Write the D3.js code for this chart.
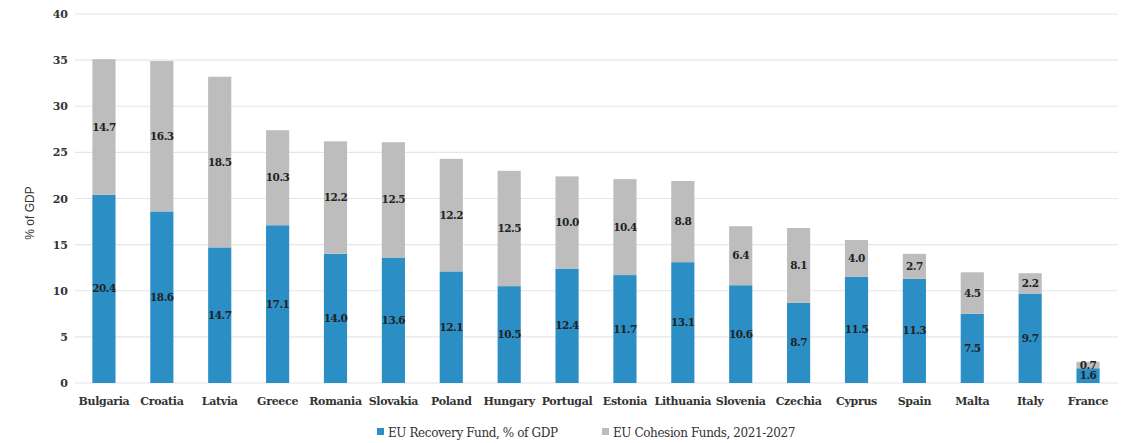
<!DOCTYPE html>
<html><head><meta charset="utf-8">
<script src="https://cdn.jsdelivr.net/npm/d3@7/dist/d3.min.js"></script>
<style>
body{margin:0;background:#fff;}
</style></head>
<body><svg id="c" width="1135" height="443"></svg>
<script>
const countries = ["Bulgaria","Croatia","Latvia","Greece","Romania","Slovakia","Poland","Hungary","Portugal","Estonia","Lithuania","Slovenia","Czechia","Cyprus","Spain","Malta","Italy","France"];
const recovery = [20.4,18.6,14.7,17.1,14.0,13.6,12.1,10.5,12.4,11.7,13.1,10.6,8.7,11.5,11.3,7.5,9.7,1.6];
const cohesion = [14.7,16.3,18.5,10.3,12.2,12.5,12.2,12.5,10.0,10.4,8.8,6.4,8.1,4.0,2.7,4.5,2.2,0.7];
const yTicks = [0,5,10,15,20,25,30,35,40];
const seriesNames = ["EU Recovery Fund, % of GDP","EU Cohesion Funds, 2021-2027"];
const colors = ["#2b8fc6","#bdbdbd"];
const serif = "'DejaVu Serif',serif";

const svg = d3.select("#c");
const x = d3.scaleBand().domain(countries).range([75,1117]).paddingInner(0.6).paddingOuter(0.3);
const y = d3.scaleLinear().domain([0,40]).range([383,14]);

svg.append("g").selectAll("line").data(yTicks).join("line")
  .attr("x1",75).attr("x2",1118).attr("y1",d=>y(d)).attr("y2",d=>y(d))
  .attr("stroke","#e6e6e6").attr("stroke-width",1.2);

const ya = svg.append("g").attr("transform","translate(70,0)")
  .call(d3.axisLeft(y).tickValues(yTicks).tickSize(0).tickPadding(2));
ya.select(".domain").remove();
ya.selectAll("text").attr("font-family",serif).attr("font-size",11).attr("font-weight","bold").attr("fill","#333");

svg.append("text").attr("transform","translate(34,213) rotate(-90)")
  .attr("text-anchor","middle").attr("font-size",12).attr("fill","#333")
  .attr("font-family","'Liberation Sans',Arial,sans-serif").text("% of GDP");

const data = countries.map((c,i)=>({country:c, rec:recovery[i], coh:cohesion[i]}));
const stack = d3.stack().keys(["rec","coh"])(data);

const g = svg.append("g");
stack.forEach((s,si)=>{
  g.append("g").attr("fill",colors[si]).selectAll("rect").data(s).join("rect")
    .attr("x",d=>x(d.data.country)).attr("width",x.bandwidth())
    .attr("y",d=>y(d[1])).attr("height",d=>y(d[0])-y(d[1]));
  g.append("g").selectAll("text").data(s).join("text")
    .attr("x",d=>x(d.data.country)+x.bandwidth()/2)
    .attr("y",d=>y((d[0]+d[1])/2)+3.5)
    .attr("text-anchor","middle").attr("font-family",serif).attr("font-size",10.5).attr("font-weight","bold")
    .attr("fill","#222").attr("letter-spacing","-0.5")
    .text(d=>(d[1]-d[0]).toFixed(1));
});

const xa = svg.append("g").attr("transform","translate(0,383)")
  .call(d3.axisBottom(x).tickSize(0).tickPadding(14));
xa.select(".domain").remove();
xa.selectAll("text").attr("font-family",serif).attr("font-size",11).attr("font-weight","bold").attr("fill","#333").attr("letter-spacing","-0.3");

const leg = svg.append("g");
const lx = [377, 602];
seriesNames.forEach((n,i)=>{
  leg.append("rect").attr("x",lx[i]).attr("y",428).attr("width",7).attr("height",7).attr("fill",colors[i]);
  leg.append("text").attr("x",lx[i]+11).attr("y",437).attr("font-family",serif).attr("font-size",12).attr("fill","#333").attr("letter-spacing","-0.4").text(n);
});
</script></body></html>
